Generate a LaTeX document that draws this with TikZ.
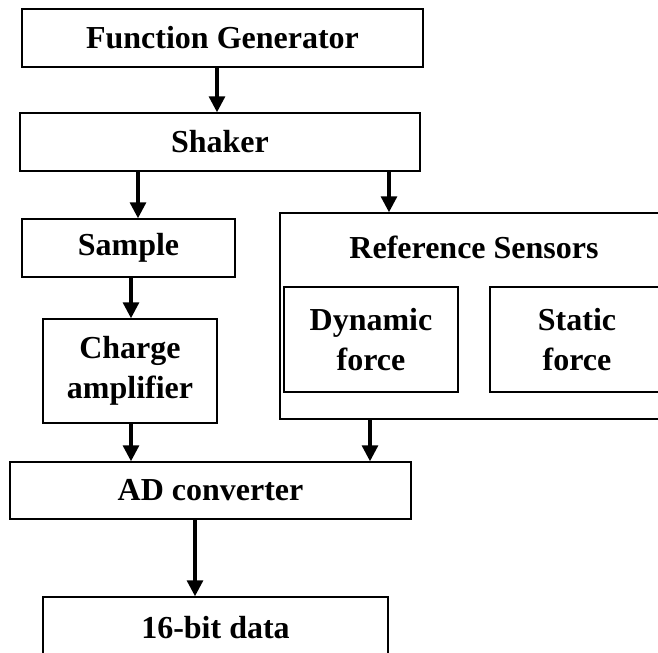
\documentclass[tikz,border=0pt]{standalone}
\usepackage{fontspec}
\setmainfont{Liberation Serif}
\usetikzlibrary{arrows.meta}

\begin{document}
\begin{tikzpicture}[x=0.75pt,y=-0.75pt,
  box/.style={draw,line width=1.1pt,inner sep=0pt,align=center,font=\fontsize{24}{30}\selectfont\bfseries},
  flow/.style={line width=2.4pt,-{Triangle[length=12pt,width=12pt]}}]
\useasboundingbox (0,0) rectangle (658,653);
% blocks
\node[box,minimum width=300.75pt,minimum height=43.5pt] (fg) at (222.5,38) {Function Generator};
\node[box,minimum width=300pt,minimum height=43.5pt] (shaker) at (220,142) {Shaker};
\node[box,minimum width=159.75pt,minimum height=43.5pt] (sample) at (128.5,248) {Sample};
\node[box,minimum width=130.5pt,minimum height=78pt] (charge) at (130,371) {Charge\\amplifier};
\node[box,minimum width=294pt,minimum height=154.5pt] (ref) at (476,316) {};
\node[box,draw=none] (reftitle) at (474,247) {Reference Sensors};
\node[box,minimum width=130.5pt,minimum height=78.75pt] (dyn) at (371,339.5) {Dynamic\\force};
\node[box,minimum width=130.5pt,minimum height=78.75pt] (stat) at (577,339.5) {Static\\force};
\node[box,minimum width=300.75pt,minimum height=42.75pt] (ad) at (210.5,490.5) {AD converter};
\node[box,minimum width=258.75pt,minimum height=46.5pt] (bits) at (215.5,628) {16-bit data};
% arrows
\draw[flow] (fg.south -| 217,0) -- (shaker.north -| 217,0);
\draw[flow] (shaker.south -| 138,0) -- (sample.north -| 138,0);
\draw[flow] (shaker.south -| 389,0) -- (ref.north -| 389,0);
\draw[flow] (sample.south -| 131,0) -- (charge.north -| 131,0);
\draw[flow] (charge.south -| 131,0) -- (ad.north -| 131,0);
\draw[flow] (ref.south -| 370,0) -- (ad.north -| 370,0);
\draw[flow] (ad.south -| 195,0) -- (bits.north -| 195,0);
\end{tikzpicture}
\end{document}
